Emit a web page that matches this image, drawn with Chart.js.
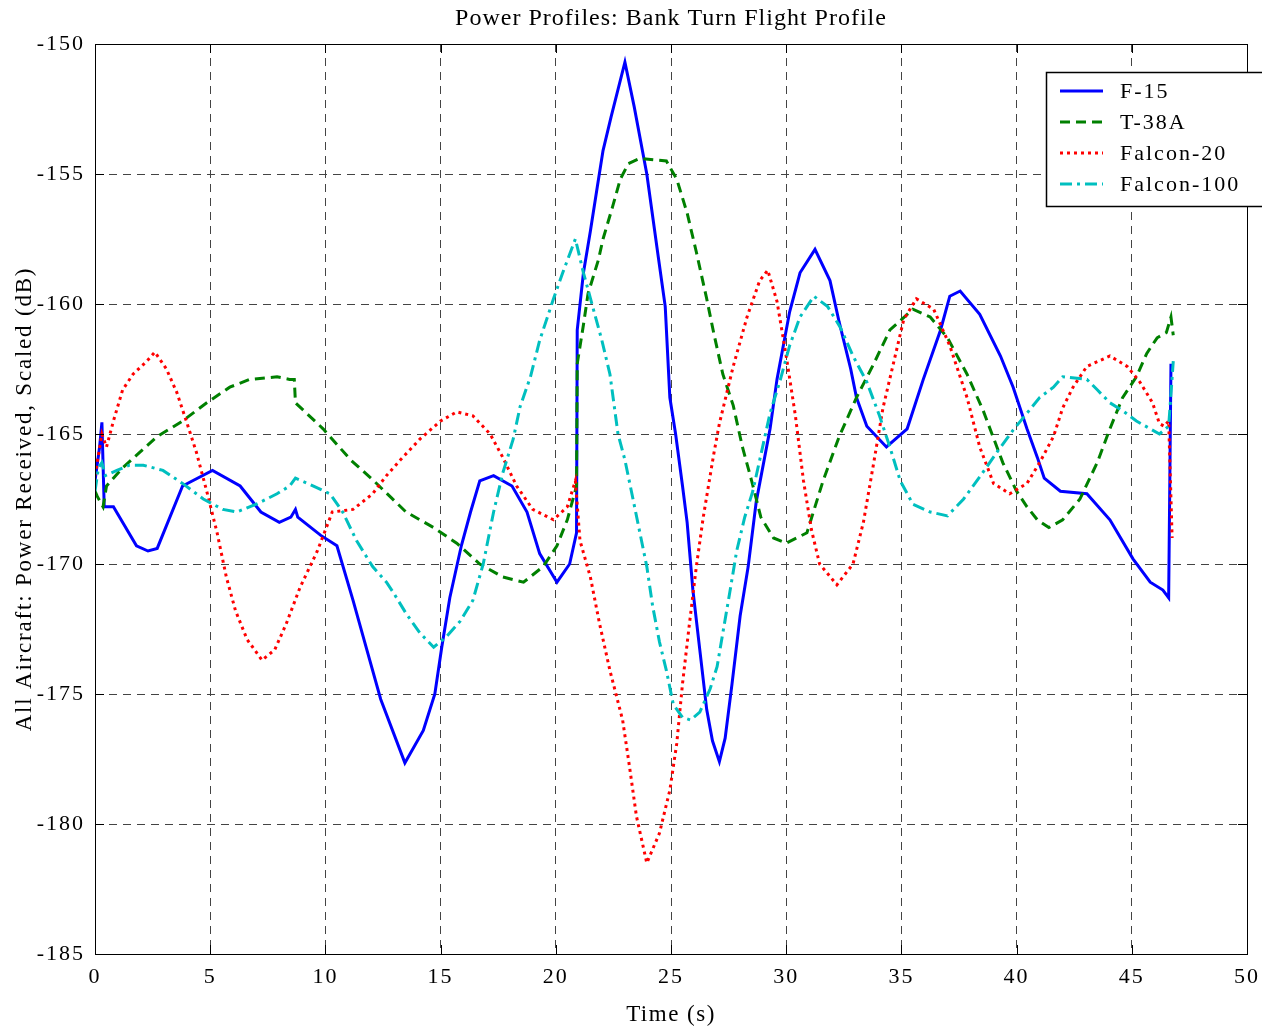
<!DOCTYPE html>
<html>
<head>
<meta charset="utf-8">
<script src="https://cdn.jsdelivr.net/npm/chart.js@4.4.1/dist/chart.umd.min.js"></script>
<style>
body{margin:0;background:#fff;}
canvas{display:block;}
</style>
</head>
<body>
<canvas id="grafico" width="1262" height="1029"></canvas>
<script>
// series names and colours
const nomes=["F-15","T-38A","Falcon-20","Falcon-100"];
const xTicks=[0,5,10,15,20,25,30,35,40,45,50];
const yTicks=[-185,-180,-175,-170,-165,-160,-155,-150];

// F-15 (time s, dB)
const f15T=[0,0.2,0.3,0.4,0.8,1.8,2.3,2.7,3.8,5.1,6.3,7.2,8.0,8.5,8.7,8.8,9.8,10.5,11.2,11.8,12.4,13.45,14.25,14.75,15.05,15.4,15.9,16.3,16.7,17.3,18.1,18.75,19.3,20.05,20.6,20.9,20.93,21.2,21.5,21.8,22.05,22.4,23.0,23.4,23.95,24.45,24.75,24.95,25.2,25.5,25.7,25.95,26.25,26.55,26.8,27.1,27.35,27.65,28.0,28.35,28.7,29.3,29.6,30.15,30.6,31.25,31.9,32.3,32.8,33.05,33.5,34.35,35.25,35.95,36.7,37.1,37.55,38.4,39.3,39.85,40.45,40.9,41.2,41.9,43.05,44.05,45.05,45.8,46.35,46.6,46.7];
const f15V=[-166.8,-165.5,-164.55,-167.8,-167.8,-169.3,-169.5,-169.4,-167.0,-166.4,-167.0,-168.0,-168.4,-168.2,-167.9,-168.2,-168.9,-169.3,-171.4,-173.3,-175.2,-177.65,-176.4,-175.0,-173.2,-171.3,-169.3,-168.0,-166.8,-166.6,-167.0,-168.0,-169.6,-170.7,-170.0,-168.8,-161.0,-158.8,-157.2,-155.5,-154.1,-152.8,-150.7,-152.4,-155.0,-158.2,-160.1,-163.6,-165.0,-167.0,-168.4,-171.0,-173.3,-175.6,-176.8,-177.6,-176.7,-174.6,-172.0,-170.1,-167.6,-164.8,-162.9,-160.3,-158.8,-157.9,-159.1,-160.7,-162.5,-163.6,-164.7,-165.5,-164.8,-162.9,-161.0,-159.7,-159.5,-160.4,-162.0,-163.2,-164.8,-165.9,-166.7,-167.2,-167.3,-168.3,-169.8,-170.7,-171.0,-171.3,-162.3];

// T-38A
const t38T=[0,0.1,0.35,0.5,1.2,1.95,2.7,3.8,4.85,5.85,6.7,7.9,8.45,8.65,8.7,9.9,11.1,12.1,12.8,13.5,14.7,15.7,16.7,17.7,18.6,19.45,20.05,20.5,20.9,20.93,21.2,21.4,21.85,22.05,22.45,22.8,23.15,23.65,24.8,25.25,25.7,26.1,26.55,26.85,27.25,27.7,28.1,28.5,28.9,29.45,30.0,30.9,31.6,32.3,33.05,33.8,34.5,35.5,36.25,37.0,37.85,38.55,39.4,40.0,40.45,40.9,41.4,42.0,42.75,43.5,44.05,44.6,45.2,45.65,46.1,46.5,46.7,46.8];
const t38V=[-167.2,-167.4,-167.8,-167.0,-166.3,-165.7,-165.1,-164.5,-163.8,-163.2,-162.9,-162.8,-162.9,-162.9,-163.8,-164.8,-166.0,-166.8,-167.4,-168.0,-168.6,-169.2,-170.0,-170.5,-170.7,-170.1,-169.3,-168.3,-167.0,-162.3,-160.8,-159.6,-158.3,-157.5,-156.3,-155.2,-154.6,-154.4,-154.5,-155.2,-156.5,-158.0,-159.8,-161.1,-162.7,-163.9,-165.5,-166.8,-168.2,-169.0,-169.2,-168.8,-166.8,-165.1,-163.6,-162.3,-161.0,-160.2,-160.5,-161.3,-162.7,-164.1,-166.1,-167.2,-167.8,-168.3,-168.6,-168.3,-167.5,-166.1,-164.8,-163.6,-162.8,-161.9,-161.3,-161.1,-160.5,-161.2];

// Falcon-20
const f20T=[0,0.3,0.5,0.8,1.2,1.65,2.25,2.6,3.1,3.55,4.0,4.4,4.85,5.3,5.7,6.1,6.6,7.25,7.8,8.3,8.9,9.65,10.3,11.2,12.05,12.65,13.25,14.1,15.0,15.7,16.4,17.15,17.7,18.3,19.0,19.9,20.5,20.85,21.05,21.5,21.9,22.35,22.9,23.2,23.5,23.95,24.5,24.95,25.25,25.5,25.8,26.1,26.4,26.85,27.1,27.7,28.3,28.85,29.2,29.6,30.0,30.4,30.75,31.1,31.45,32.2,32.9,33.35,33.8,34.2,34.65,35.1,35.65,36.4,37.1,37.85,38.4,39.0,39.7,40.45,41.0,41.6,42.0,42.45,43.05,44.05,44.8,45.35,45.9,46.2,46.4,46.6,46.75];
const f20V=[-166.6,-165.0,-165.5,-164.5,-163.3,-162.7,-162.2,-161.85,-162.5,-163.4,-164.6,-165.7,-167.2,-168.8,-170.5,-171.8,-172.9,-173.7,-173.3,-172.3,-170.9,-169.5,-168.0,-167.9,-167.3,-166.6,-166.0,-165.2,-164.5,-164.15,-164.3,-165.0,-165.9,-167.0,-167.9,-168.3,-167.8,-166.8,-169.1,-170.5,-172.3,-174.1,-176.0,-177.8,-179.7,-181.5,-180.35,-178.7,-176.9,-174.6,-172.3,-170.1,-168.2,-165.8,-164.6,-162.4,-160.5,-159.1,-158.7,-159.9,-162.0,-164.3,-166.8,-168.7,-170.0,-170.8,-170.0,-168.4,-166.1,-164.0,-162.3,-160.6,-159.8,-160.2,-161.6,-163.6,-165.5,-166.9,-167.3,-166.9,-166.1,-165.1,-164.0,-163.2,-162.4,-162.0,-162.4,-163.0,-163.8,-164.6,-164.7,-164.5,-169.0];

// Falcon-100
const f100T=[0,0.15,0.3,0.45,0.95,1.5,2.1,2.95,3.8,4.7,5.55,6.15,7.0,7.9,8.45,8.7,9.35,10.2,10.75,11.35,12.05,12.65,12.95,13.5,14.1,14.7,15.25,15.85,16.4,16.85,17.3,17.7,18.15,18.45,18.9,19.3,19.9,20.3,20.85,21.2,21.6,22.0,22.35,22.7,23.0,23.35,23.65,23.95,24.2,24.5,24.8,25.1,25.5,25.85,26.25,26.7,27.0,27.25,27.55,27.85,28.2,28.55,28.85,29.3,29.75,30.15,30.6,31.2,31.8,32.35,32.9,33.5,34.05,34.5,34.95,35.5,36.25,37.0,37.7,38.4,39.15,39.85,40.45,41.0,41.6,42.0,43.05,43.5,44.05,44.6,45.2,45.8,46.2,46.6,46.8];
const f100V=[-167.2,-166.3,-166.1,-166.6,-166.4,-166.2,-166.2,-166.4,-166.9,-167.5,-167.9,-168.0,-167.7,-167.3,-167.0,-166.7,-166.95,-167.3,-168.0,-169.1,-170.1,-170.7,-171.1,-171.9,-172.65,-173.2,-172.8,-172.2,-171.4,-170.0,-168.0,-166.5,-165.2,-163.95,-162.8,-161.4,-159.8,-158.8,-157.5,-158.8,-160.1,-161.4,-162.7,-165.0,-166.0,-167.5,-168.8,-170.1,-171.6,-173.0,-174.1,-175.4,-175.9,-176.0,-175.7,-174.8,-173.95,-172.65,-171.1,-169.5,-168.2,-167.2,-166.0,-164.2,-162.9,-161.6,-160.5,-159.7,-160.1,-160.9,-162.0,-163.0,-164.3,-165.5,-166.8,-167.7,-168.0,-168.15,-167.5,-166.65,-165.7,-164.85,-164.2,-163.6,-163.2,-162.8,-162.9,-163.3,-163.8,-164.1,-164.5,-164.8,-165.0,-164.7,-162.2];

const cores=["#0000ff","#008000","#ff0000","#00bfbf"];
const tracos=[[],[10,6],[3,4],[12,5,3,5]];
const fonte="Liberation Serif";

function pares(ts,vs){return ts.map((t,i)=>({x:t,y:vs[i]}));}

const series=[pares(f15T,f15V),pares(t38T,t38V),pares(f20T,f20V),pares(f100T,f100V)];

function texto(ctx,s,x,y,tam,esp,rot){
ctx.save();
ctx.font=tam+"px '"+fonte+"'";
ctx.letterSpacing=esp+"px";
ctx.translate(x,y);ctx.rotate(rot||0);
ctx.fillText(s,0,0);
ctx.restore();
}

// letter spacing for tick labels, then title, axis labels, frame, inner ticks, legend
const extras={
id:"extras",
beforeDraw(chart){chart.ctx.letterSpacing="2px";},
afterDraw(chart){
const ctx=chart.ctx,a=chart.chartArea;
const sx=chart.scales.x,sy=chart.scales.y;
ctx.save();
ctx.strokeStyle="#000";ctx.lineWidth=1;ctx.setLineDash([]);
for(const v of xTicks){
let px=Math.round(sx.getPixelForValue(v))+0.5;
ctx.beginPath();ctx.moveTo(px,a.bottom);ctx.lineTo(px,a.bottom-9);ctx.moveTo(px,a.top);ctx.lineTo(px,a.top+9);ctx.stroke();
}
for(const v of yTicks){
let py=Math.round(sy.getPixelForValue(v))+0.5;
ctx.beginPath();ctx.moveTo(a.left,py);ctx.lineTo(a.left+9,py);ctx.moveTo(a.right,py);ctx.lineTo(a.right-9,py);ctx.stroke();
}
ctx.strokeRect(Math.round(a.left)+0.5,Math.round(a.top)+0.5,Math.round(a.right-a.left),Math.round(a.bottom-a.top));
ctx.fillStyle="#000";
ctx.textAlign="center";ctx.textBaseline="middle";
let cx=(a.left+a.right)/2;
texto(ctx,"Power Profiles: Bank Turn Flight Profile",cx,19,24,1);
texto(ctx,"Time (s)",cx,1015,23,1.5);
texto(ctx,"All Aircraft: Power Received, Scaled (dB)",25,(a.top+a.bottom)/2,23,1.8,-Math.PI/2);
// legend
ctx.fillStyle="#fff";
ctx.fillRect(1046,72,240,134);
ctx.lineWidth=1.5;
ctx.strokeRect(1046.5,72.5,240,134);
ctx.textAlign="left";
for(let i=0;i<nomes.length;i++){
let y=91+31*i;
ctx.strokeStyle=cores[i];ctx.lineWidth=3;ctx.setLineDash(tracos[i]);
ctx.beginPath();ctx.moveTo(1060,y);ctx.lineTo(1103,y);ctx.stroke();
ctx.fillStyle="#000";
texto(ctx,nomes[i],1120,y+1,22,2);
}
ctx.restore();
}
};

new Chart(document.getElementById("grafico"),{
type:"line",
data:{datasets:series.map((d,i)=>({
label:nomes[i],data:d,borderColor:cores[i],borderWidth:3,borderDash:tracos[i],
borderCapStyle:"butt",pointRadius:0,tension:0,fill:false,order:4-i
}))},
options:{
responsive:false,animation:false,
layout:{padding:{top:44,right:15,left:0,bottom:0}},
plugins:{legend:{display:false},tooltip:{enabled:false},title:{display:false}},
scales:{
x:{type:"linear",min:0,max:50,
afterFit(s){s.height=75;s.paddingLeft=0;s.paddingRight=0;},
afterBuildTicks(s){s.ticks=xTicks.map(v=>({value:v}));},
ticks:{color:"#000",font:{family:fonte,size:22},padding:10,maxRotation:0},
grid:{color:"#444",lineWidth:1,drawTicks:false},
border:{display:false,dash:[8,6]}
},
y:{type:"linear",min:-185,max:-150,
afterFit(s){s.width=95;s.paddingTop=0;s.paddingBottom=0;},
afterBuildTicks(s){s.ticks=yTicks.map(v=>({value:v}));},
ticks:{color:"#000",font:{family:fonte,size:22},padding:10},
grid:{color:"#444",lineWidth:1,drawTicks:false},
border:{display:false,dash:[8,6]}
}
}
},
plugins:[extras]
});
</script>
</body>
</html>
